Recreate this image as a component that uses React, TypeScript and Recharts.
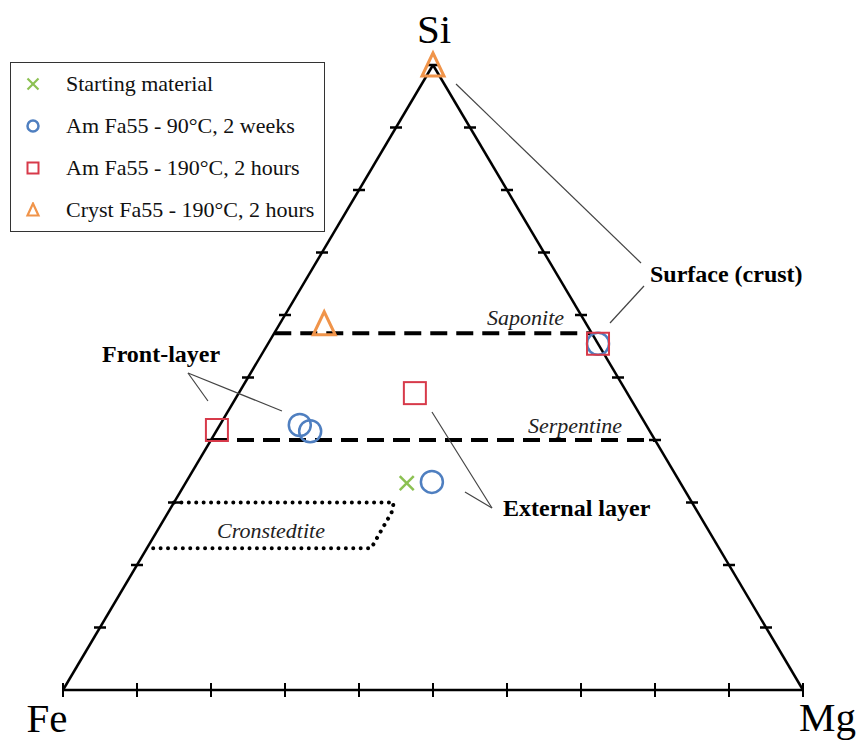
import React from 'react';
import { ScatterChart, Scatter, XAxis, YAxis, ReferenceLine, Legend } from 'recharts';

// compositions in % (Fe, Mg, Si)
const startingMaterial = [{ fe: 37.0, mg: 29.9, si: 33.1 }];
const amFa55Weeks = [
  { fe: 33.5, mg: 33.2, si: 33.3 },
  { fe: 46.8, mg: 10.8, si: 42.4 },
  { fe: 45.9, mg: 12.7, si: 41.4 },
  { fe: 0, mg: 44.6, si: 55.4 },
];
const amFa55Hours = [
  { fe: 58.4, mg: 0, si: 41.6 },
  { fe: 28.7, mg: 23.8, si: 47.5 },
  { fe: 0, mg: 44.6, si: 55.4 },
];
const crystFa55Hours = [
  { fe: 0, mg: 0, si: 100 },
  { fe: 35.4, mg: 6.0, si: 58.6 },
];

// reference phases
const saponiteSi = 57.1;
const serpentineSi = 40;
const cronstedtite = [
  { fe: 70, mg: 0, si: 30 },
  { fe: 40.3, mg: 29.7, si: 30 },
  { fe: 41.4, mg: 30.2, si: 28.4 },
  { fe: 47, mg: 30.3, si: 22.7 },
  { fe: 77.3, mg: 0, si: 22.7 },
];

const TICKS = [0, 10, 20, 30, 40, 50, 60, 70, 80, 90, 100];
const vertices = [
  { name: 'Fe', fe: 100, mg: 0, si: 0 },
  { name: 'Mg', fe: 0, mg: 100, si: 0 },
  { name: 'Si', fe: 0, mg: 0, si: 100 },
];

// annotations, in diagram units (x across Fe->Mg, y = Si fraction)
const annotationTexts = [
  { text: 'Surface (crust)', x: 0.7932, y: 0.6528, kind: 'bold' },
  { text: 'Front-layer', x: 0.0527, y: 0.5248, kind: 'bold' },
  { text: 'External layer', x: 0.5946, y: 0.2784, kind: 'bold' },
  { text: 'Saponite', x: 0.573, y: 0.584, kind: 'italic' },
  { text: 'Serpentine', x: 0.6284, y: 0.4112, kind: 'italic' },
  { text: 'Cronstedtite', x: 0.2081, y: 0.2432, kind: 'italic' },
];
const callouts = [
  [{ x: 0.5311, y: 0.9696 }, { x: 0.7811, y: 0.6832 }],
  [{ x: 0.7851, y: 0.6464 }, { x: 0.7392, y: 0.5872 }],
  [{ x: 0.1689, y: 0.5072 }, { x: 0.1959, y: 0.4624 }],
  [{ x: 0.1689, y: 0.5072 }, { x: 0.2959, y: 0.4464 }],
  [{ x: 0.5797, y: 0.2912 }, { x: 0.4986, y: 0.4448 }],
  [{ x: 0.5797, y: 0.2912 }, { x: 0.5432, y: 0.3168 }],
];

const toXY = (p: { fe: number; mg: number; si: number }) => {
  const t = p.fe + p.mg + p.si;
  return { ...p, x: (p.mg + p.si / 2) / t, y: p.si / t };
};

const SERIF = '"Liberation Serif", "Times New Roman", Times, serif';
const GREEN = '#8cc152';
const BLUE = '#4f7fc0';
const RED = '#d73a4a';
const ORANGE = '#f0944a';

const vertexLabelStyle: Record<string, { dx: number; dy: number; anchor: string }> = {
  Fe: { dx: -16, dy: 42, anchor: 'middle' },
  Mg: { dx: -4, dy: 41, anchor: 'start' },
  Si: { dx: 1, dy: -22, anchor: 'middle' },
};

const Cross = ({ cx, cy, s = 7, w = 2.5 }: any) => (
  <g stroke={GREEN} strokeWidth={w}>
    <line x1={cx - s} y1={cy - s} x2={cx + s} y2={cy + s} />
    <line x1={cx - s} y1={cy + s} x2={cx + s} y2={cy - s} />
  </g>
);
const Ring = ({ cx, cy, r = 11, w = 2.5 }: any) => (
  <circle cx={cx} cy={cy} r={r} fill="none" stroke={BLUE} strokeWidth={w} />
);
const Box = ({ cx, cy, s = 11, w = 2 }: any) => (
  <rect x={cx - s} y={cy - s} width={s * 2} height={s * 2} fill="none" stroke={RED} strokeWidth={w} />
);
const Tri = ({ cx, cy, s = 11, w = 3 }: any) => (
  <polygon
    points={`${cx},${cy - s - 1} ${cx - s},${cy + s} ${cx + s},${cy + s}`}
    fill="none"
    stroke={ORANGE}
    strokeWidth={w}
    strokeLinejoin="miter"
  />
);

const VTick = ({ cx, cy }: any) => (
  <line x1={cx} x2={cx} y1={cy - 7} y2={cy + 7} stroke="#000" strokeWidth={2} />
);
const HTick = ({ cx, cy }: any) => (
  <line x1={cx - 6} x2={cx + 6} y1={cy} y2={cy} stroke="#000" strokeWidth={2.5} />
);

const AnnotationText = ({ cx, cy, payload }: any) => (
  <text
    x={cx}
    y={cy}
    fontFamily={SERIF}
    fontSize={payload.kind === 'bold' ? 24 : 22}
    fontWeight={payload.kind === 'bold' ? 'bold' : 'normal'}
    fontStyle={payload.kind === 'italic' ? 'italic' : 'normal'}
    fill={payload.kind === 'bold' ? '#000' : '#222'}
  >
    {payload.text}
  </text>
);

const VertexLabel = ({ cx, cy, payload }: any) => {
  const st = vertexLabelStyle[payload.name];
  return (
    <text x={cx + st.dx} y={cy + st.dy} fontFamily={SERIF} fontSize={41} textAnchor={st.anchor} fill="#000">
      {payload.name}
    </text>
  );
};

const legendItems = [
  { name: 'Starting material', Icon: () => <Cross cx={8} cy={8} s={5.5} w={2.2} /> },
  { name: 'Am Fa55 - 90°C, 2 weeks', Icon: () => <Ring cx={8} cy={8} r={5.5} w={2.5} /> },
  { name: 'Am Fa55 - 190°C, 2 hours', Icon: () => <Box cx={8} cy={8} s={5.5} w={2} /> },
  { name: 'Cryst Fa55 - 190°C, 2 hours', Icon: () => <Tri cx={8} cy={8} s={5.5} w={2.2} /> },
];

const renderLegend = () => (
  <div
    style={{
      boxSizing: 'border-box',
      width: 315,
      height: 170,
      border: '1px solid #333',
      background: '#fff',
      fontFamily: SERIF,
      fontSize: 22,
      color: '#111',
    }}
  >
    {legendItems.map(({ name, Icon }) => (
      <div key={name} style={{ display: 'flex', alignItems: 'center', height: 42 }}>
        <svg width={16} height={16} style={{ marginLeft: 14, marginRight: 25 }}>
          <Icon />
        </svg>
        <span style={{ whiteSpace: 'nowrap', fontFamily: SERIF }}>{name}</span>
      </div>
    ))}
  </div>
);

export default function App() {
  const base = TICKS.map((t) => toXY({ fe: 100 - t, mg: t, si: 0 }));
  const left = TICKS.filter((t) => t > 0).map((t) => toXY({ fe: 100 - t, mg: 0, si: t }));
  const right = TICKS.filter((t) => t > 0 && t < 100).map((t) => toXY({ fe: 0, mg: 100 - t, si: t }));
  const [vFe, vMg, vSi] = vertices.map(toXY);
  const sap = [toXY({ fe: 100 - saponiteSi, mg: 0, si: saponiteSi }), toXY({ fe: 0, mg: 100 - saponiteSi, si: saponiteSi })];
  const serp = [toXY({ fe: 100 - serpentineSi, mg: 0, si: serpentineSi }), toXY({ fe: 0, mg: 100 - serpentineSi, si: serpentineSi })];

  return (
    <div
      style={{
        position: 'absolute',
        left: 0,
        top: 0,
        width: 862,
        height: 742,
        background: '#fff',
        fontFamily: SERIF,
      }}
    >
      <ScatterChart width={862} height={742} margin={{ top: 65, right: 59, bottom: 52, left: 63 }}>
        <XAxis type="number" dataKey="x" domain={[0, 1]} hide />
        <YAxis type="number" dataKey="y" domain={[0, 1]} hide />

        {/* triangle frame */}
        <ReferenceLine segment={[vFe, vMg]} stroke="#000" strokeWidth={2.5} ifOverflow="visible" />
        <ReferenceLine segment={[vFe, vSi]} stroke="#000" strokeWidth={2.5} ifOverflow="visible" />
        <ReferenceLine segment={[vMg, vSi]} stroke="#000" strokeWidth={2.5} ifOverflow="visible" />

        {/* phase lines */}
        <ReferenceLine segment={sap} stroke="#000" strokeWidth={4} strokeDasharray="17 9" ifOverflow="visible" />
        <ReferenceLine segment={serp} stroke="#000" strokeWidth={4} strokeDasharray="17 9" ifOverflow="visible" />

        {callouts.map((seg, i) => (
          <ReferenceLine key={i} segment={seg} stroke="#444" strokeWidth={1.2} ifOverflow="visible" />
        ))}

        <Scatter
          data={cronstedtite.map(toXY)}
          line={{ stroke: '#000', strokeWidth: 4, strokeDasharray: '0.01 7.4', strokeLinecap: 'round' }}
          shape={() => <g />}
          legendType="none"
          isAnimationActive={false}
        />

        <Scatter data={base} shape={VTick} legendType="none" isAnimationActive={false} />
        <Scatter data={left} shape={HTick} legendType="none" isAnimationActive={false} />
        <Scatter data={right} shape={HTick} legendType="none" isAnimationActive={false} />

        <Scatter name="Starting material" data={startingMaterial.map(toXY)} shape={Cross} isAnimationActive={false} />
        <Scatter name="Am Fa55 - 90°C, 2 weeks" data={amFa55Weeks.map(toXY)} shape={Ring} isAnimationActive={false} />
        <Scatter name="Am Fa55 - 190°C, 2 hours" data={amFa55Hours.map(toXY)} shape={Box} isAnimationActive={false} />
        <Scatter name="Cryst Fa55 - 190°C, 2 hours" data={crystFa55Hours.map(toXY)} shape={Tri} isAnimationActive={false} />

        <Scatter data={annotationTexts} shape={AnnotationText} legendType="none" isAnimationActive={false} />
        <Scatter data={vertices.map(toXY)} shape={VertexLabel} legendType="none" isAnimationActive={false} />

        <Legend
          layout="vertical"
          align="center"
          verticalAlign="middle"
          content={renderLegend}
          wrapperStyle={{ left: 10, top: 62, width: 315, height: 170 }}
        />
      </ScatterChart>
    </div>
  );
}
